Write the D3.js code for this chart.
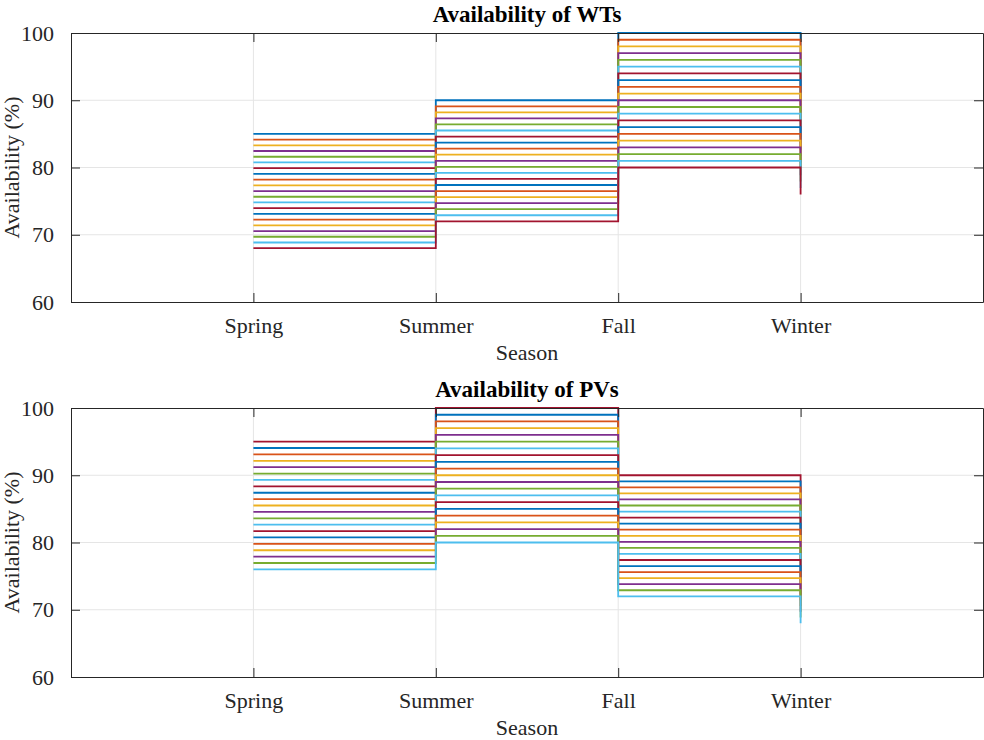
<!DOCTYPE html>
<html>
<head>
<meta charset="utf-8">
<script src="https://cdn.jsdelivr.net/npm/d3@7"></script>
<style>
  body { margin: 0; background: #fff; }
  svg text { font-family: "Liberation Serif", "Times New Roman", "DejaVu Serif", serif; }
  .grid line { stroke: #e5e5e5; stroke-width: 1; }
  .tick text { fill: #262626; }
</style>
</head>
<body>
<svg id="chart" width="984" height="740"></svg>
<script>
// seasons on the x axis (positions 1..4)
const seasons = ["Spring", "Summer", "Fall", "Winter"]
const yTicks = [60, 70, 80, 90, 100]

// MATLAB default colour order
const palette = ["#0072BD", "#D95319", "#EDB120", "#7E2F8E", "#77AC30", "#4DBEEE", "#A2142F"]

// WT availability per season, one entry per scenario (21 scenarios)
const wtSpring = [85, 84.15, 83.3, 82.45, 81.6, 80.75, 79.9, 79.05, 78.2, 77.35, 76.5, 75.65, 74.8, 73.95, 73.1, 72.25, 71.4, 70.55, 69.7, 68.85, 68]
const wtSummer = [90, 89.1, 88.2, 87.3, 86.4, 85.5, 84.6, 83.7, 82.8, 81.9, 81, 80.1, 79.2, 78.3, 77.4, 76.5, 75.6, 74.7, 73.8, 72.9, 72]
const wtFall   = [100, 99, 98, 97, 96, 95, 94, 93, 92, 91, 90, 89, 88, 87, 86, 85, 84, 83, 82, 81, 80]
const wtWinter = [95, 94.05, 93.1, 92.15, 91.2, 90.25, 89.3, 88.35, 87.4, 86.45, 85.5, 84.55, 83.6, 82.65, 81.7, 80.75, 79.8, 78.85, 77.9, 76.95, 76]

// PV availability per season
const pvSpring = [95, 94.05, 93.1, 92.15, 91.2, 90.25, 89.3, 88.35, 87.4, 86.45, 85.5, 84.55, 83.6, 82.65, 81.7, 80.75, 79.8, 78.85, 77.9, 76.95, 76]
const pvSummer = [100, 99, 98, 97, 96, 95, 94, 93, 92, 91, 90, 89, 88, 87, 86, 85, 84, 83, 82, 81, 80]
const pvFall   = [90, 89.1, 88.2, 87.3, 86.4, 85.5, 84.6, 83.7, 82.8, 81.9, 81, 80.1, 79.2, 78.3, 77.4, 76.5, 75.6, 74.7, 73.8, 72.9, 72]
const pvWinter = [85, 84.15, 83.3, 82.45, 81.6, 80.75, 79.9, 79.05, 78.2, 77.35, 76.5, 75.65, 74.8, 73.95, 73.1, 72.25, 71.4, 70.55, 69.7, 68.85, 68]

const FONT = "'Liberation Serif', 'Times New Roman', 'DejaVu Serif', serif"

function to_series(cols) {
  // turn season columns into one array of points per scenario
  let out = []
  for (let i = 0; i < cols[0].length; i++) {
    out.push(cols.map((c, j) => ({ x: j + 1, y: c[i] })))
  }
  return out
}

function draw_panel(svg, opts) {
  const left = 71, right = 983
  const top = opts.top, bottom = opts.top + 269

  const x = d3.scaleLinear().domain([0, 5]).range([left, right])
  const y = d3.scaleLinear().domain([60, 100]).range([bottom, top])

  const g = svg.append("g")

  // grid
  const grid = g.append("g").attr("class", "grid")
  grid.selectAll("line.v").data([1, 2, 3, 4]).enter().append("line")
    .attr("x1", d => x(d)).attr("x2", d => x(d))
    .attr("y1", top).attr("y2", bottom)
  grid.selectAll("line.h").data(yTicks.slice(1, -1)).enter().append("line")
    .attr("x1", left).attr("x2", right)
    .attr("y1", d => y(d)).attr("y2", d => y(d))

  // stairs
  const line = d3.line()
    .x(d => x(d.x))
    .y(d => y(d.y))
    .curve(d3.curveStepAfter)

  g.append("g").selectAll("path")
    .data(opts.series).enter()
    .append("path")
    .attr("d", line)
    .attr("fill", "none")
    .attr("stroke", (d, i) => palette[(i + opts.colorOffset) % 7])
    .attr("stroke-width", 1.8)

  // axes (ticks point inward, box on)
  const axisStyle = sel => {
    sel.attr("font-family", FONT)
    sel.select(".domain").attr("stroke", "#262626").attr("stroke-width", 1)
    sel.selectAll(".tick line").attr("stroke", "#262626")
  }

  g.append("g")
    .attr("transform", `translate(0, ${bottom})`)
    .call(d3.axisBottom(x).tickValues([1, 2, 3, 4]).tickFormat(d => seasons[d - 1])
      .tickSizeInner(-9).tickSizeOuter(0).tickPadding(15))
    .call(axisStyle)
    .call(a => a.selectAll("text").attr("font-size", 22))

  g.append("g")
    .attr("transform", `translate(0, ${top})`)
    .call(d3.axisTop(x).tickValues([1, 2, 3, 4]).tickFormat("").tickSizeInner(-9).tickSizeOuter(0))
    .call(axisStyle)

  g.append("g")
    .attr("transform", `translate(${left}, 0)`)
    .call(d3.axisLeft(y).tickValues(yTicks).tickSizeInner(-9).tickSizeOuter(0).tickPadding(17))
    .call(axisStyle)
    .call(a => a.selectAll("text").attr("font-size", 22))

  g.append("g")
    .attr("transform", `translate(${right}, 0)`)
    .call(d3.axisRight(y).tickValues(yTicks).tickFormat("").tickSizeInner(-9).tickSizeOuter(0))
    .call(axisStyle)

  // labels
  g.append("text")
    .attr("x", (left + right) / 2).attr("y", top - 11)
    .attr("text-anchor", "middle")
    .attr("font-family", FONT)
    .attr("font-size", 23).attr("font-weight", "bold")
    .attr("fill", "#000")
    .text(opts.title)

  g.append("text")
    .attr("x", (left + right) / 2).attr("y", bottom + 58)
    .attr("text-anchor", "middle")
    .attr("font-family", FONT)
    .attr("font-size", 22).attr("fill", "#262626")
    .text("Season")

  g.append("text")
    .attr("transform", `translate(19, ${(top + bottom) / 2}) rotate(-90)`)
    .attr("text-anchor", "middle")
    .attr("font-family", FONT)
    .attr("font-size", 22).attr("fill", "#262626")
    .text("Availability (%)")
}

const svg = d3.select("#chart")

draw_panel(svg, {
  top: 33,
  title: "Availability of WTs",
  series: to_series([wtSpring, wtSummer, wtFall, wtWinter]),
  colorOffset: 0
})

draw_panel(svg, {
  top: 408,
  title: "Availability of PVs",
  series: to_series([pvSpring, pvSummer, pvFall, pvWinter]),
  colorOffset: 6
})
</script>
</body>
</html>
